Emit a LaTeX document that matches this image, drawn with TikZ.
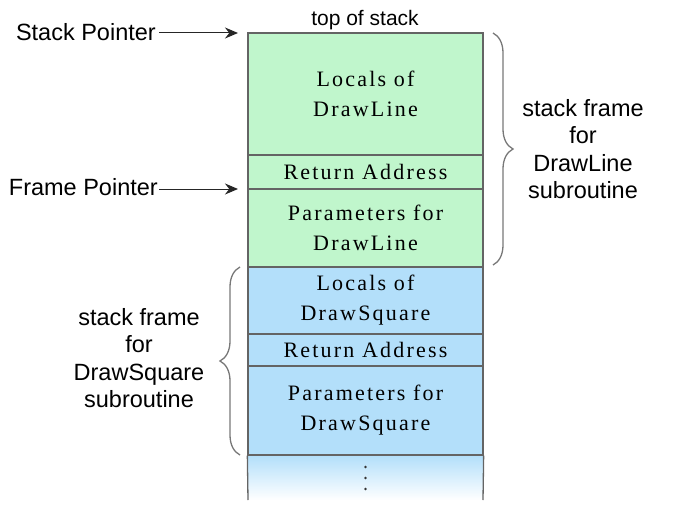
\documentclass[tikz,border=0pt]{standalone}
\usepackage{fontspec}
\setmainfont{Liberation Serif}
\newfontfamily\labelfont{Liberation Sans}
\newfontfamily\cellfont[LetterSpace=10]{Liberation Serif}
\usetikzlibrary{decorations.pathreplacing,arrows.meta}
\definecolor{cellgreen}{RGB}{192,246,204}
\definecolor{cellblue}{RGB}{179,223,250}
\definecolor{linegray}{RGB}{100,100,100}
\definecolor{bracegray}{RGB}{120,120,120}
\begin{document}
\begin{tikzpicture}[x=1pt,y=-1pt,
  cell/.style={draw=linegray, line width=1.3pt, minimum width=235pt, inner sep=0pt, align=center, font=\cellfont\fontsize{22}{30}\selectfont},
  lab/.style={font=\labelfont\fontsize{23.5}{27.5}\selectfont, align=center, inner sep=1pt},
  ptr/.style={-{Stealth[length=13pt,width=11pt]}, draw=black!85, line width=1pt},
  bracestyle/.style={draw=bracegray, line width=1.3pt, decorate, decoration={brace, amplitude=20pt}}
]
\useasboundingbox (0,0) rectangle (680,508);
% cells
\node[cell, fill=cellgreen, minimum height=122pt] (gl) at (365.5,94) {Locals of\\DrawLine};
\node[cell, fill=cellgreen, minimum height=34pt] (gr) at (365.5,172) {Return Address};
\node[cell, fill=cellgreen, minimum height=78pt] (gp) at (365.5,228) {Parameters for\\DrawLine};
\node[cell, fill=cellblue, minimum height=67pt] (bl) at (365.5,300.5) {Locals of\\DrawSquare};
\node[cell, fill=cellblue, minimum height=32pt] (br) at (365.5,350) {Return Address};
\node[cell, fill=cellblue, minimum height=89pt] (bp) at (365.5,410.5) {Parameters for\\DrawSquare};
% open bottom
\shade[top color=cellblue, bottom color=white] (bp.south west) rectangle (483,500);
\draw[linegray, line width=1.3pt] (bp.south west) -- (248,500);
\draw[linegray, line width=1.3pt] (bp.south east) -- (483,500);
\draw[linegray, line width=1.3pt] (bp.south west) -- (bp.south east);
\foreach \yy in {467,478,489} \fill[black!80] (365.5,\yy) circle (1.4pt);
% top label
\node[font=\labelfont\fontsize{21}{22}\selectfont, inner sep=0pt] (top) at (365,20) {top of stack};
% pointers
\node[lab, anchor=east] (sp) at (157,32) {Stack Pointer};
\coordinate (spt) at (238,33);
\draw[ptr] (sp.east |- spt) ++(2,0) -- (spt);
\node[lab, anchor=east] (fp) at (159,187) {Frame Pointer};
\coordinate (fpt) at (238,189);
\draw[ptr] (fp.east |- fpt) -- (fpt);
% braces
\coordinate (rb1) at (493,33);
\coordinate (rb2) at (493,265);
\draw[bracestyle] (rb1) -- (rb2);
\node[lab] (rl) at (583,149) {stack frame\\for\\DrawLine\\subroutine};
\coordinate (lb1) at (240,455);
\coordinate (lb2) at (240,267);
\draw[bracestyle] (lb1) -- (lb2);
\node[lab] (ll) at (139,358) {stack frame\\for\\DrawSquare\\subroutine};
\end{tikzpicture}
\end{document}
